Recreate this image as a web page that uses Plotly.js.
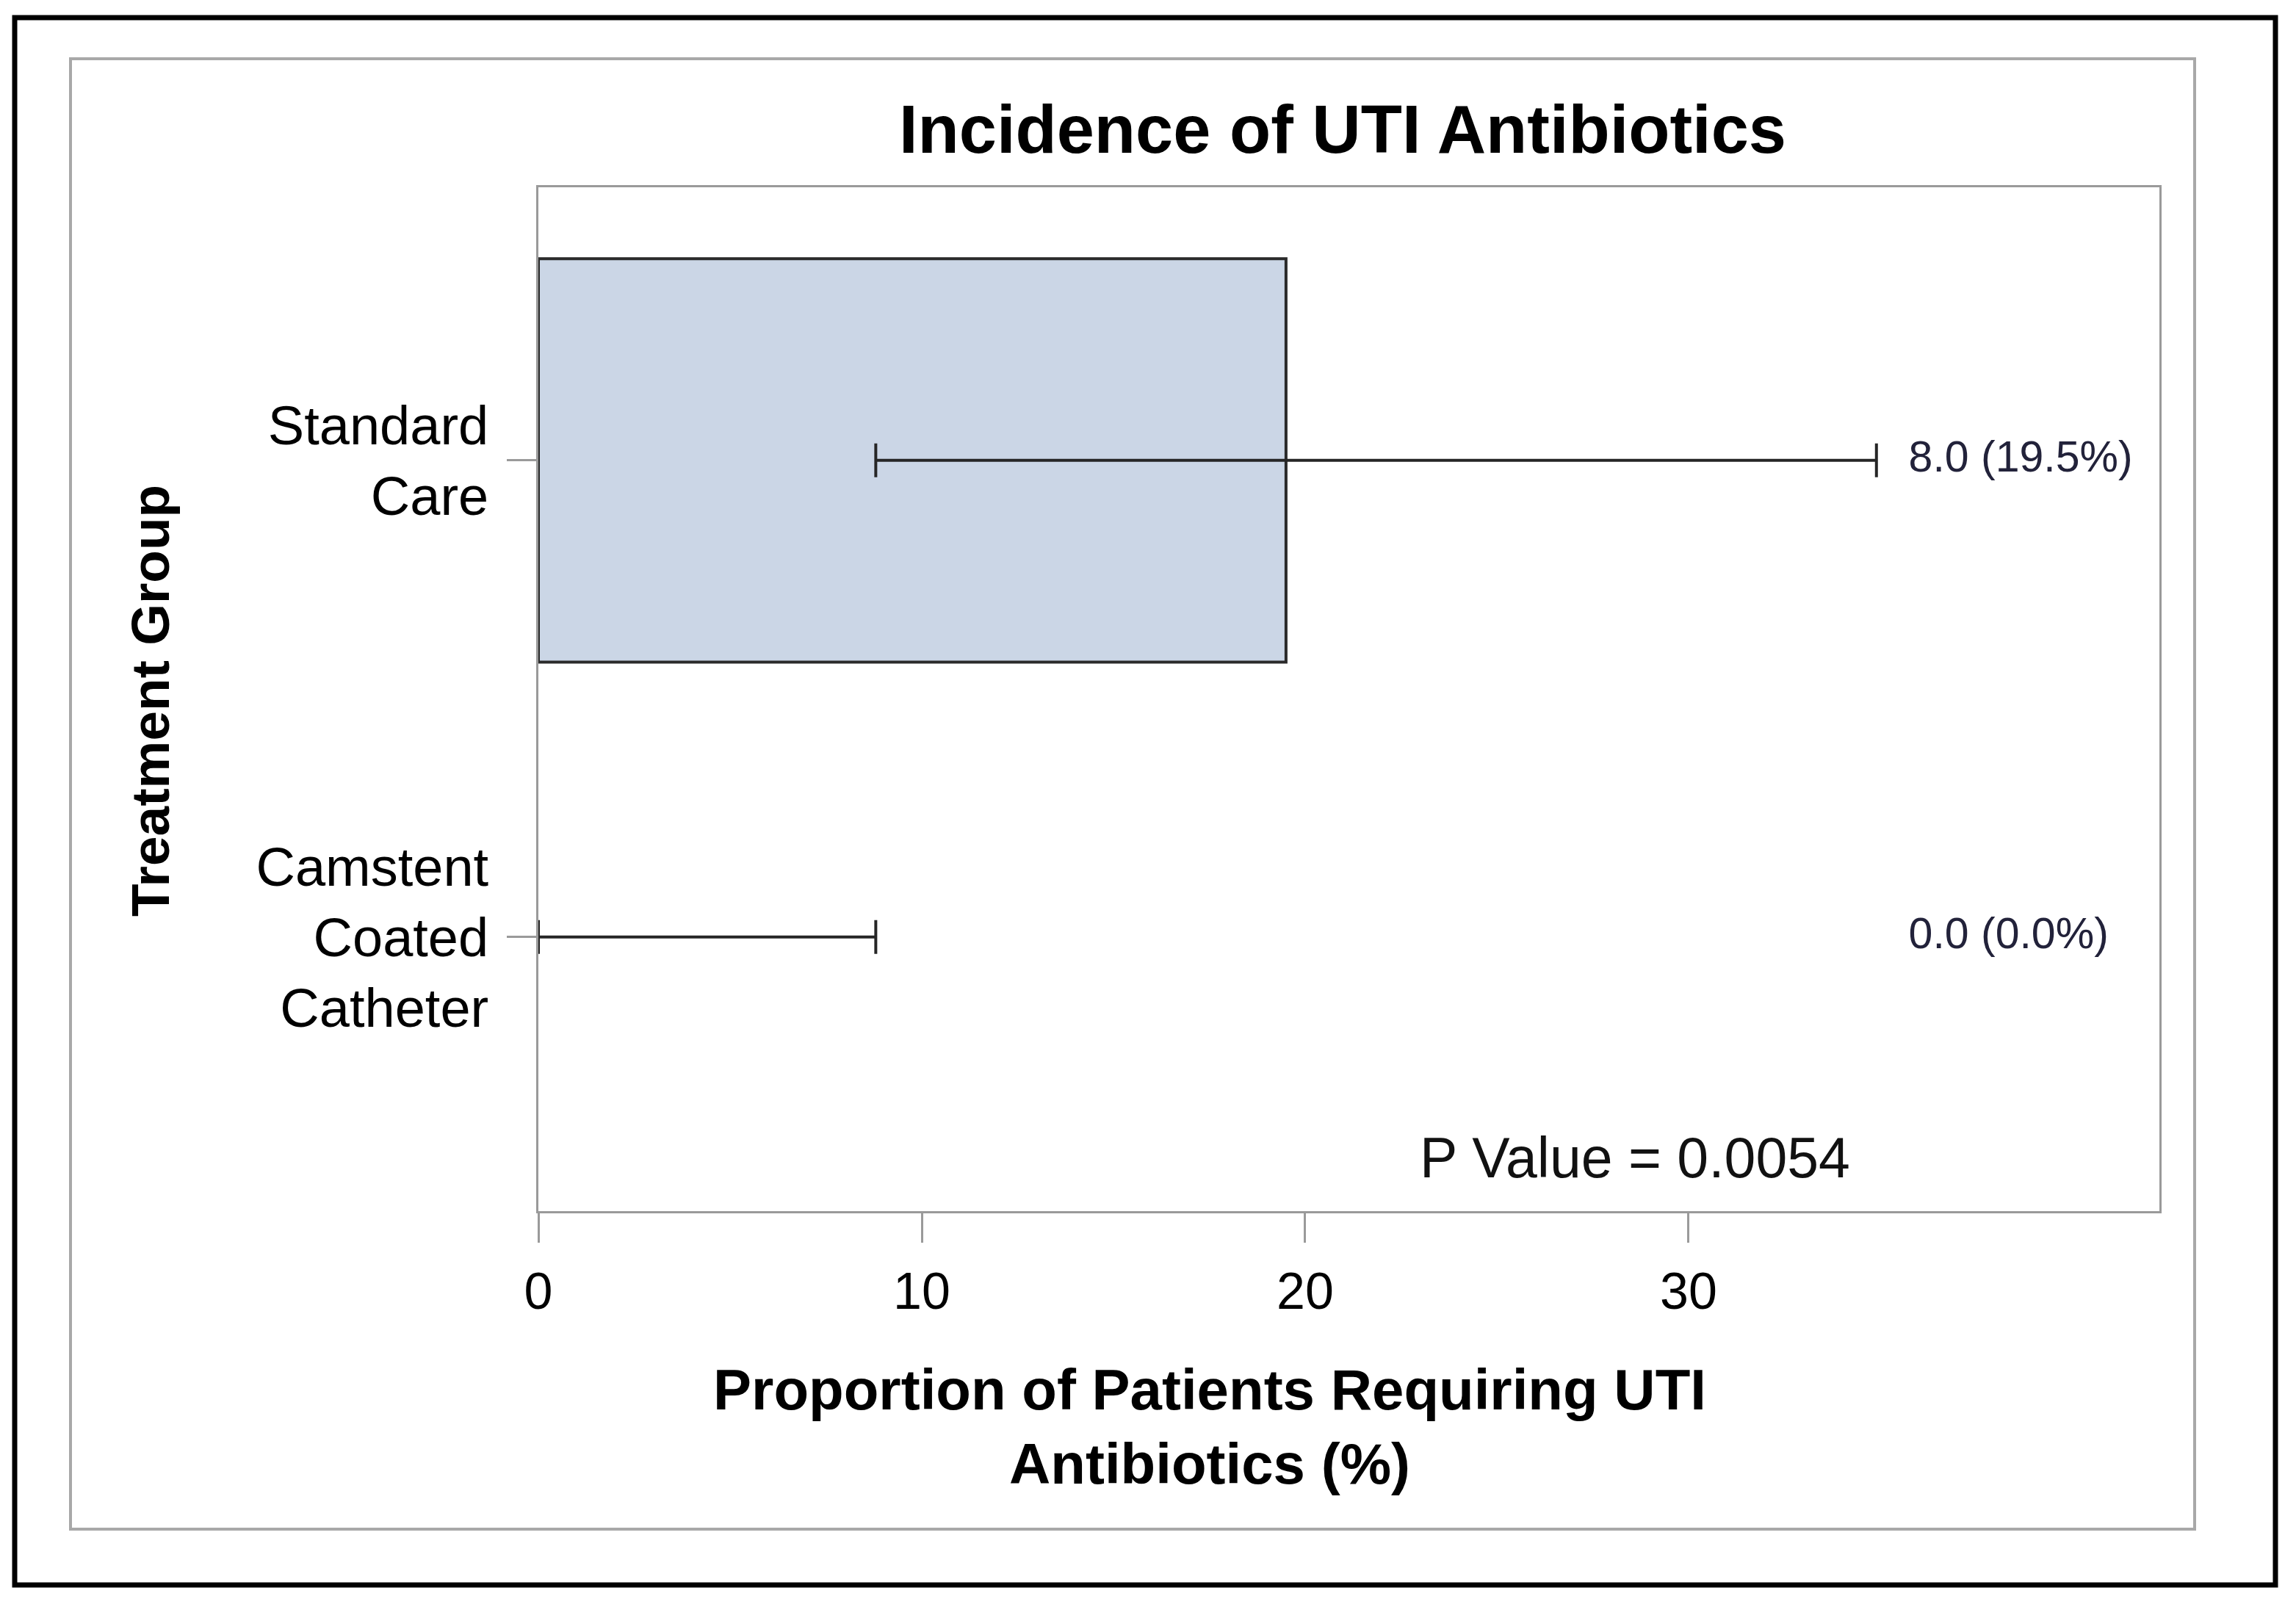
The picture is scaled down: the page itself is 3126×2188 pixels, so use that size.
<!DOCTYPE html>
<html>
<head>
<meta charset="utf-8">
<script src="https://cdn.plot.ly/plotly-3.0.1.min.js"></script>
<style>
  html, body { margin: 0; padding: 0; background: #fff; }
  #chart { width: 3126px; height: 2188px; }
</style>
</head>
<body>
<div id="chart"></div>
<script>
// Chart data
const groups = ['Camstent<br>Coated<br>Catheter', 'Standard<br>Care'];
const proportion = [0.0, 19.5];      // % of patients requiring UTI antibiotics
const counts = [0.0, 8.0];           // number of patients
const ciLower = [0.0, 8.8];
const ciUpper = [8.8, 34.9];
const xTicks = [0, 10, 20, 30];
const pValue = '0.0054';

// Page geometry (pixels)
const W = 3126, H = 2188;
const M = { l: 733, r: 186, t: 255, b: 539 };
const plotW = W - M.l - M.r;
const plotH = H - M.t - M.b;
const px = x => (x - M.l) / plotW;
const py = y => (H - M.b - y) / plotH;

const FONT = 'Liberation Sans, Arial, sans-serif';

const labels = counts.map((n, i) => `${n.toFixed(1)} (${proportion[i].toFixed(1)}%)`);

const traces = [
    {
        type: 'bar',
        orientation: 'h',
        x: proportion,
        y: groups,
        width: 0.846,
        marker: {
            color: '#cbd6e6',
            // no outline on an empty bar
            line: { color: '#2a2a2a', width: proportion.map(p => p > 0 ? 4 : 0) }
        },
        error_x: {
            type: 'data',
            symmetric: false,
            array: proportion.map((p, i) => ciUpper[i] - p),
            arrayminus: proportion.map((p, i) => p - ciLower[i]),
            color: '#262626',
            thickness: 4,
            width: 23
        },
        hoverinfo: 'x+y'
    },
    {
        // data label column at the right
        type: 'scatter',
        mode: 'text',
        x: groups.map(() => 35.74),
        y: groups,
        text: labels,
        textposition: 'middle right',
        textfont: { family: FONT, size: 59, color: '#22223a' },
        hoverinfo: 'skip'
    }
];

const layout = {
    width: W,
    height: H,
    margin: M,
    paper_bgcolor: '#ffffff',
    plot_bgcolor: '#ffffff',
    showlegend: false,
    font: { family: FONT, color: '#000' },
    title: {
        text: 'Incidence of UTI Antibiotics',
        font: { family: FONT, size: 92, weight: 'bold', color: '#000' },
        xref: 'container',
        x: 1828 / W,
        xanchor: 'center',
        yref: 'container',
        y: 1 - 176 / H,
        yanchor: 'middle'
    },
    xaxis: {
        range: [0, 42.28],
        tickvals: xTicks,
        ticktext: xTicks.map(String),
        ticks: 'outside',
        ticklen: 40,
        tickwidth: 3,
        tickcolor: '#9a9a9a',
        ticklabelstandoff: 6,
        tickfont: { family: FONT, size: 70, color: '#000' },
        showgrid: false,
        zeroline: false,
        showline: true,
        linecolor: '#9a9a9a',
        linewidth: 3,
        mirror: true,
        fixedrange: true
    },
    yaxis: {
        type: 'category',
        categoryorder: 'array',
        categoryarray: groups,
        range: [-0.575, 1.573],
        ticks: 'outside',
        ticklen: 40,
        tickwidth: 3,
        tickcolor: '#9a9a9a',
        ticklabelstandoff: 10,
        tickfont: { family: FONT, size: 74, color: '#000' },
        showgrid: false,
        zeroline: false,
        showline: true,
        linecolor: '#9a9a9a',
        linewidth: 3,
        mirror: true,
        fixedrange: true
    },
    annotations: [
        {
            text: 'Proportion of Patients Requiring UTI<br>Antibiotics (%)',
            xref: 'paper', yref: 'paper',
            x: px(1647), y: py(1942),
            xanchor: 'center', yanchor: 'middle',
            align: 'center',
            showarrow: false,
            font: { family: FONT, size: 78, weight: 'bold', color: '#000' }
        },
        {
            text: 'Treatment Group',
            xref: 'paper', yref: 'paper',
            x: px(204), y: py(954),
            xanchor: 'center', yanchor: 'middle',
            textangle: -90,
            showarrow: false,
            font: { family: FONT, size: 73, weight: 'bold', color: '#000' }
        },
        {
            text: 'P Value = ' + pValue,
            xref: 'x', yref: 'paper',
            x: 28.6, y: py(1576),
            xanchor: 'center', yanchor: 'middle',
            showarrow: false,
            font: { family: FONT, size: 77, color: '#111' }
        }
    ],
    shapes: [
        // graph frame
        {
            type: 'rect', xref: 'paper', yref: 'paper',
            x0: px(96), x1: px(2988), y0: py(2082), y1: py(80),
            line: { color: '#a8a8a8', width: 4 }
        },
        // outer black border
        {
            type: 'rect', xref: 'paper', yref: 'paper',
            x0: px(20), x1: px(3098), y0: py(2158), y1: py(24),
            line: { color: '#000000', width: 7 }
        }
    ]
};

Plotly.newPlot('chart', traces, layout, { displayModeBar: false, responsive: false });
</script>
</body>
</html>
